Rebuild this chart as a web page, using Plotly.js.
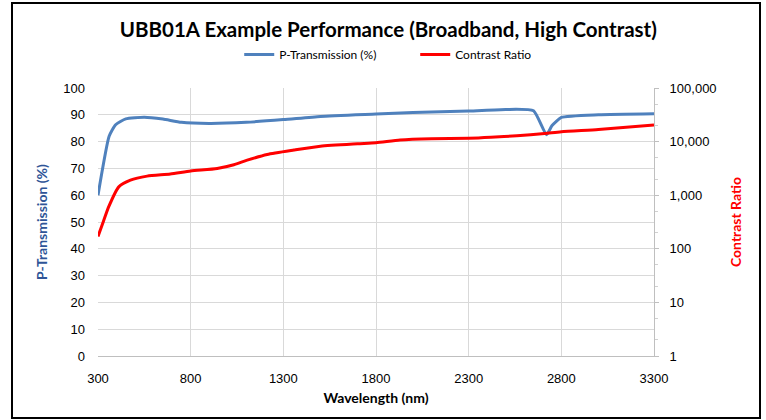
<!DOCTYPE html>
<html>
<head>
<meta charset="utf-8">
<script src="https://cdn.plot.ly/plotly-3.0.1.min.js"></script>
<style>
  html, body { margin: 0; padding: 0; background: #fff; }
  #wrap { position: relative; width: 766px; height: 420px; }
  #chart { width: 766px; height: 420px; }
  #frame { position: absolute; left: 11px; top: 2px; width: 746px; height: 413px;
           border: 2.5px solid #000; pointer-events: none; }
</style>
</head>
<body>
<div id="wrap"><div id="chart"></div><div id="frame"></div></div>
<script>
// ---- data ----
var wavelengthT = [300, 360, 395, 450, 550, 650, 750, 900, 1100, 1300, 1500, 1800, 2000, 2300, 2500, 2650, 2720, 2750, 2800, 3000, 3300];
var transmission = [60, 82, 86.3, 88.5, 89.1, 88.4, 87.2, 86.8, 87.2, 88.2, 89.4, 90.3, 90.9, 91.4, 92.0, 91.5, 82.6, 86.0, 89.0, 90.0, 90.4];

var wavelengthC = [300, 330, 358, 412, 475, 565, 690, 800, 943, 1033, 1105, 1213, 1357, 1500, 1700, 1800, 1930, 2100, 2300, 2420, 2560, 2710, 2800, 3000, 3300];
var contrast = [170, 330, 610, 1430, 1910, 2270, 2480, 2820, 3150, 3700, 4500, 5750, 6950, 8200, 9100, 9500, 10700, 11300, 11500, 12000, 12850, 14200, 15300, 16900, 20400];

var xTicks = [300, 800, 1300, 1800, 2300, 2800, 3300];
var leftTicks = [0, 10, 20, 30, 40, 50, 60, 70, 80, 90, 100];
var rightTickVals = [1, 10, 100, 1000, 10000, 100000];
var rightTickText = ['1', '10', '100', '1,000', '10,000', '100,000'];

var textFont = 'Lato, Liberation Sans, sans-serif';
var regular = 'Liberation Sans, Arial, sans-serif';

var traces = [
  { x: wavelengthT, y: transmission, name: 'P-Transmission (%)', type: 'scatter', mode: 'lines',
    line: { color: '#4F81BD', width: 3, shape: 'spline', smoothing: 0.5 }, yaxis: 'y' },
  { x: wavelengthC, y: contrast, name: 'Contrast Ratio', type: 'scatter', mode: 'lines',
    line: { color: '#FF0000', width: 3, shape: 'spline', smoothing: 0.6 }, yaxis: 'y2' }
];

var layout = {
  width: 766, height: 420,
  margin: { l: 98, r: 112, t: 88, b: 64, pad: 0 },
  paper_bgcolor: '#fff', plot_bgcolor: '#fff',
  showlegend: true,
  title: { text: '<b>UBB01A Example Performance (Broadband, High Contrast)</b>',
           font: { family: textFont, size: 20.5, color: '#000' },
           x: 0.507, xanchor: 'center', y: 0.93, yanchor: 'middle', yref: 'container' },
  legend: { orientation: 'h', x: 0.254, xanchor: 'left', y: 1.125, yanchor: 'middle',
            font: { family: textFont, size: 12, color: '#000' },
            entrywidth: 131, entrywidthmode: 'pixels', itemwidth: 30, tracegroupgap: 0 },
  xaxis: {
    range: [300, 3300], tickvals: xTicks, ticktext: xTicks.map(String),
    showgrid: true, gridcolor: '#d9d9d9', gridwidth: 1,
    showline: true, linecolor: '#bfbfbf', linewidth: 1, zeroline: false,
    ticks: '', ticklabelstandoff: 10,
    tickfont: { family: regular, size: 13, color: '#000' },
    title: { text: '<b>Wavelength (nm)</b>', font: { family: textFont, size: 14, color: '#000' }, standoff: 8 }
  },
  yaxis: {
    range: [0, 100], tickvals: leftTicks, ticktext: leftTicks.map(String),
    showgrid: true, gridcolor: '#d9d9d9', gridwidth: 1, zeroline: false,
    showline: false, ticks: '', ticklabelstandoff: 12,
    tickfont: { family: regular, size: 13, color: '#000' },
    title: { text: '<b>P-Transmission (%)</b>', font: { family: textFont, size: 14, color: '#2F5597' }, standoff: 12 }
  },
  yaxis2: {
    type: 'log', range: [0, 5], overlaying: 'y', side: 'right',
    tickvals: rightTickVals, ticktext: rightTickText,
    showgrid: false, zeroline: false, showline: true, linecolor: '#bfbfbf', linewidth: 1,
    ticks: 'outside', ticklen: 4, tickcolor: '#bfbfbf', ticklabelstandoff: 8,
    minor: { ticks: 'outside', ticklen: 3, tickcolor: '#d0d0d0', showgrid: false },
    tickfont: { family: regular, size: 13, color: '#000' },
    title: { text: '<b>Contrast Ratio</b>', font: { family: textFont, size: 14, color: '#FF0000' }, standoff: 15 }
  }
};

Plotly.newPlot('chart', traces, layout, { staticPlot: true, displayModeBar: false });
</script>
</body>
</html>
